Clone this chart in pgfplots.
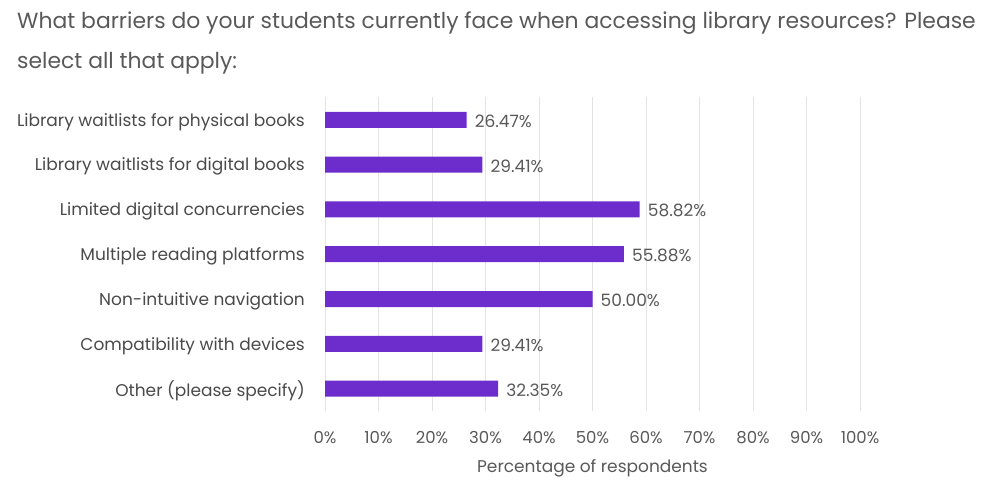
\documentclass[border=0pt]{standalone}
\usepackage{fontspec}
\setmainfont{Poppins}
\usepackage{pgfplots}
\pgfplotsset{compat=1.18}

\definecolor{barcol}{HTML}{6D2DCD}
\definecolor{txt}{HTML}{595959}
\definecolor{cat}{HTML}{4A4A4A}
\definecolor{gridcol}{HTML}{E3E3E3}

\pgfplotstableread{
y val
0 26.47
1 29.41
2 58.82
3 55.88
4 50.00
5 29.41
6 32.35
}\barriers

\begin{document}
\begin{tikzpicture}[x=1bp,y=1bp]
\path[use as bounding box] (0,0) rectangle (1005,-487);
% title, two lines
\node[anchor=base west, inner sep=0, text=txt, font=\fontsize{21.9bp}{26bp}\selectfont]
  at (17,-29) {What barriers do your students currently face when accessing library resources? Please};
\node[anchor=base west, inner sep=0, text=txt, font=\fontsize{21.9bp}{26bp}\selectfont]
  at (17,-69) {select all that apply:};

\begin{axis}[
    at={(325bp,-411bp)}, anchor=south west,
    scale only axis,
    width=535bp, height=313.6bp,
    xbar,
    bar width=16bp,
    xmin=0, xmax=100,
    ymin=-0.5, ymax=6.5,
    y dir=reverse,
    axis line style={draw=none},
    major tick length=0pt,
    xmajorgrids,
    grid style={gridcol, line width=0.8bp},
    xtick={0,10,...,100},
    xticklabel={\pgfmathprintnumber{\tick}\%},
    /pgf/number format/assume math mode=true,
    xticklabel style={text=txt, font=\fontsize{16.5bp}{19bp}\selectfont, anchor=north, inner sep=0, yshift=-20bp},
    ytick={0,...,6},
    yticklabels={Library waitlists for physical books, Library waitlists for digital books, Limited digital concurrencies, Multiple reading platforms, Non-intuitive navigation, Compatibility with devices, Other (please specify)},
    yticklabel style={text=cat, font=\fontsize{17bp}{20bp}\selectfont, anchor=east, inner sep=0, xshift=-20bp, yshift=-2bp},
    xlabel={Percentage of respondents},
    xlabel style={text=txt, font=\fontsize{17bp}{20bp}\selectfont, at={(axis description cs:0.5,0)}, anchor=center, inner sep=0, yshift=-57bp},
    nodes near coords={\pgfmathprintnumber[fixed,fixed zerofill,precision=2]{\pgfplotspointmeta}\%},
    nodes near coords style={text=txt, font=\fontsize{17bp}{20bp}\selectfont, anchor=west, inner sep=0, xshift=8bp, yshift=-1.5bp},
]
\addplot[fill=barcol, draw=none] table[x=val, y=y] {\barriers};
\end{axis}
\end{tikzpicture}
\end{document}
